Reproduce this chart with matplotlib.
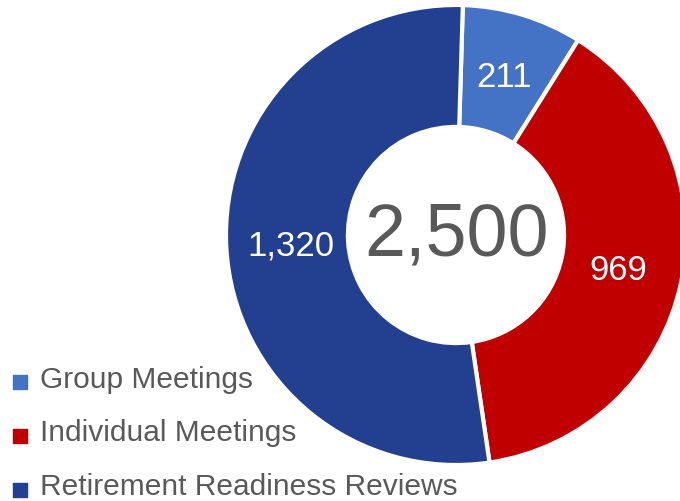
import matplotlib
matplotlib.use("Agg")
import matplotlib.pyplot as plt
from matplotlib.lines import Line2D
from matplotlib.path import Path

plt.rcParams['font.family'] = ['Liberation Sans Narrow', 'Liberation Sans', 'DejaVu Sans']

labels = ['Group Meetings', 'Individual Meetings', 'Retirement Readiness Reviews']
values = [211, 969, 1320]
colors = ['#4472C4', '#C00000', '#233F8F']
total = sum(values)

fig = plt.figure(figsize=(6.8, 5.02), dpi=100)
ax = fig.add_axes([0, 0, 1, 1])

wedges, texts = ax.pie(values, colors=colors, startangle=88.3, counterclock=False,
                       radius=1.0, labels=['{:,}'.format(v) for v in values],
                       labeldistance=0.72,
                       wedgeprops=dict(width=0.53, edgecolor='white', linewidth=3),
                       textprops=dict(color='white', fontsize=25))
for t in texts:
    t.set_ha('center')
    t.set_va('center')

ax.text(0, 0, '{:,}'.format(total), ha='center', va='center',
        fontsize=53, color='#595959')

# centre at about (456, 236) px, radius about 230 px
ax.set_xlim(-456 / 230, 224 / 230)
ax.set_ylim(-266 / 230, 236 / 230)
ax.set_aspect('equal')
ax.axis('off')

# square sitting low, near the text baseline
sq = Path([(-0.5, -0.9), (0.5, -0.9), (0.5, 0.1), (-0.5, 0.1), (-0.5, -0.9)],
          [Path.MOVETO, Path.LINETO, Path.LINETO, Path.LINETO, Path.CLOSEPOLY])
handles = [Line2D([], [], marker=sq, linestyle='none', markersize=18,
                  markerfacecolor=c, markeredgecolor=c) for c in colors]
fig.legend(handles, labels, loc='lower left', bbox_to_anchor=(0.0096, 0.002),
           frameon=False, fontsize=21.5, labelcolor='#595959',
           handletextpad=0.22, labelspacing=0.86, borderaxespad=0,
           borderpad=0, handlelength=0.9)

fig.savefig('out.png', dpi=100)
